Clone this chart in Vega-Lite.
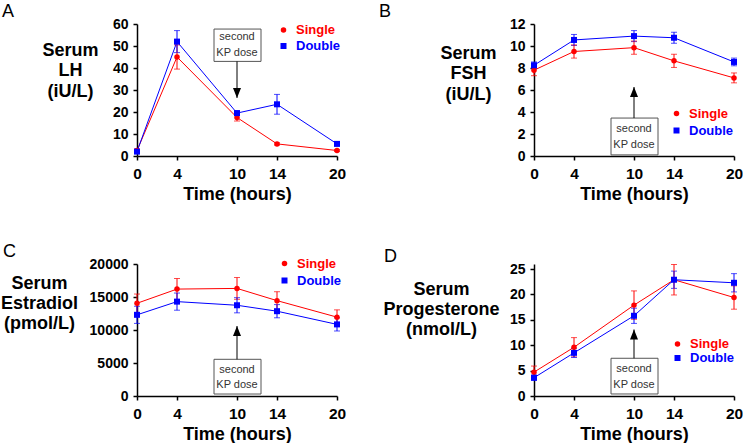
{
  "$schema": "https://vega.github.io/schema/vega-lite/v6.json",
  "padding": {"left": 0, "top": 3, "right": 0, "bottom": 0},
  "background": "white",
  "config": {
    "view": {"stroke": null},
    "font": "Liberation Sans",
    "axis": {
      "grid": false,
      "domainColor": "black", "domainWidth": 1.5,
      "tickColor": "black", "tickWidth": 1.5, "tickSize": 4,
      "labelFont": "Liberation Sans", "labelFontWeight": "bold", "labelFontSize": 14, "labelColor": "black",
      "labelOverlap": false,
      "titleFont": "Liberation Sans", "titleFontWeight": "bold", "titleFontSize": 18, "titleColor": "black"
    },
    "axisY": {"labelPadding": 5, "labelOverlap": false, "labelFlush": false, "titleAngle": 0, "titleAlign": "center", "titleBaseline": "middle", "titleLineHeight": 20.5},
    "axisX": {"labelPadding": 6, "labelFontSize": 15.5, "labelFlush": false, "labelOverlap": false, "titleBaseline": "alphabetic", "titleY": 43},
    "legend": {"labelFont": "Liberation Sans", "labelFontSize": 13, "labelFontWeight": "bold", "symbolSize": 225, "rowPadding": 2, "labelOffset": 6, "padding": 0, "orient": "none"},
    "title": {"font": "Liberation Sans", "fontSize": 18, "fontWeight": "normal", "color": "black", "anchor": "start", "frame": "group"}
  },
  "datasets": {
    "lh": [
      {"t": 0, "series": "Single", "mean": 2.5, "err": 0.7},
      {"t": 4, "series": "Single", "mean": 45, "err": 5.5},
      {"t": 10, "series": "Single", "mean": 17.5, "err": 1.6},
      {"t": 14, "series": "Single", "mean": 5.5, "err": 0.5},
      {"t": 20, "series": "Single", "mean": 2.5, "err": 0.4},
      {"t": 0, "series": "Double", "mean": 2, "err": 0.8},
      {"t": 4, "series": "Double", "mean": 52, "err": 5},
      {"t": 10, "series": "Double", "mean": 19.5, "err": 1},
      {"t": 14, "series": "Double", "mean": 23.5, "err": 4.5},
      {"t": 20, "series": "Double", "mean": 5.5, "err": 0.6}
    ],
    "fsh": [
      {"t": 0, "series": "Single", "mean": 7.8, "err": 0.5},
      {"t": 4, "series": "Single", "mean": 9.5, "err": 0.6},
      {"t": 10, "series": "Single", "mean": 9.85, "err": 0.6},
      {"t": 14, "series": "Single", "mean": 8.65, "err": 0.6},
      {"t": 20, "series": "Single", "mean": 7.1, "err": 0.45},
      {"t": 0, "series": "Double", "mean": 8.25, "err": 0.3},
      {"t": 4, "series": "Double", "mean": 10.55, "err": 0.5},
      {"t": 10, "series": "Double", "mean": 10.9, "err": 0.5},
      {"t": 14, "series": "Double", "mean": 10.75, "err": 0.5},
      {"t": 20, "series": "Double", "mean": 8.55, "err": 0.35}
    ],
    "e2": [
      {"t": 0, "series": "Single", "mean": 14050, "err": 1400},
      {"t": 4, "series": "Single", "mean": 16200, "err": 1600},
      {"t": 10, "series": "Single", "mean": 16300, "err": 1650},
      {"t": 14, "series": "Single", "mean": 14450, "err": 1350},
      {"t": 20, "series": "Single", "mean": 11950, "err": 1100},
      {"t": 0, "series": "Double", "mean": 12300, "err": 1300},
      {"t": 4, "series": "Double", "mean": 14300, "err": 1300},
      {"t": 10, "series": "Double", "mean": 13750, "err": 1150},
      {"t": 14, "series": "Double", "mean": 12850, "err": 1000},
      {"t": 20, "series": "Double", "mean": 10850, "err": 1000}
    ],
    "p4": [
      {"t": 0, "series": "Single", "mean": 4.7, "err": 1.2},
      {"t": 4, "series": "Single", "mean": 9.6, "err": 1.9},
      {"t": 10, "series": "Single", "mean": 17.9, "err": 2.8},
      {"t": 14, "series": "Single", "mean": 22.9, "err": 3},
      {"t": 20, "series": "Single", "mean": 19.4, "err": 2.3},
      {"t": 0, "series": "Double", "mean": 3.6, "err": 0.5},
      {"t": 4, "series": "Double", "mean": 8.5, "err": 0.9},
      {"t": 10, "series": "Double", "mean": 15.8, "err": 1.5},
      {"t": 14, "series": "Double", "mean": 22.9, "err": 1.7},
      {"t": 20, "series": "Double", "mean": 22.3, "err": 1.8}
    ],
    "annA": [{"x1": 7.7, "x2": 12.4, "xc": 10, "yb1": 43, "yb2": 57.7, "yt": 54, "ya": 43, "tip": 26.4, "label": "second\nKP dose"}],
    "annB": [{"x1": 7.7, "x2": 12.4, "xc": 10, "yb1": 0.1, "yb2": 3.45, "yt": 2.43, "ya": 3.45, "tip": 6.27, "label": "second\nKP dose"}],
    "annC": [{"x1": 7.7, "x2": 12.4, "xc": 10, "yb1": 300, "yb2": 5560, "yt": 3940, "ya": 5560, "tip": 10600, "label": "second\nKP dose"}],
    "annD": [{"x1": 7.7, "x2": 12.4, "xc": 10, "yb1": 0.4, "yb2": 7.43, "yt": 5.26, "ya": 7.43, "tip": 13.1, "label": "second\nKP dose"}]
  },
  "columns": 2,
  "spacing": {"row": 108, "column": 197},
  "bounds": "flush",
  "resolve": {"scale": {"color": "independent", "shape": "independent", "size": "independent"}, "legend": {"color": "independent"}},
  "concat": [
    {
      "width": 200, "height": 132,
      "title": {"text": "A", "dx": -135, "dy": 8, "offset": 4},
      "layer": [
        {"data": {"name": "annA"}, "mark": {"type": "rect", "fill": "white", "stroke": "#555555", "strokeWidth": 1},
         "encoding": {"x": {"field": "x1", "type": "quantitative", "scale": {"domain": [0, 20], "nice": false}}, "x2": {"field": "x2"},
                      "y": {"field": "yb1", "type": "quantitative", "scale": {"domain": [0, 60], "nice": false}, "axis": {"values": [0, 10, 20, 30, 40, 50, 60], "tickCount": 7, "labelOverlap": false}}, "y2": {"field": "yb2"}}},
        {"data": {"name": "annA"}, "mark": {"type": "text", "font": "Liberation Sans", "fontSize": 11, "color": "#333333", "lineBreak": "\n", "lineHeight": 15.5, "align": "center", "baseline": "middle"},
         "encoding": {"x": {"field": "xc", "type": "quantitative"}, "y": {"field": "yt", "type": "quantitative"}, "text": {"field": "label"}}},
        {"data": {"name": "annA"}, "mark": {"type": "rule", "color": "black", "strokeWidth": 1},
         "encoding": {"x": {"field": "xc", "type": "quantitative"}, "y": {"field": "ya", "type": "quantitative"}, "y2": {"field": "tip"}}},
        {"data": {"name": "annA"}, "mark": {"type": "point", "shape": "M0,0L-1,-2.5L1,-2.5Z", "filled": true, "color": "black", "size": 64, "opacity": 1},
         "encoding": {"x": {"field": "xc", "type": "quantitative"}, "y": {"field": "tip", "type": "quantitative"}}},
        {"data": {"name": "lh"},
         "encoding": {
           "x": {"field": "t", "type": "quantitative", "scale": {"domain": [0, 20], "nice": false}, "axis": {"values": [0, 4, 10, 14, 20], "title": "Time (hours)"}},
           "y": {"field": "mean", "type": "quantitative", "scale": {"domain": [0, 60], "nice": false}, "axis": {"title": ["Serum", "LH", "(iU/L)"], "titleX": -67, "titleY": 26}},
           "color": {"field": "series", "type": "nominal", "scale": {"domain": ["Single", "Double"], "range": ["#ff0000", "#0000ff"]},
                     "legend": {"title": null, "legendX": 140, "legendY": -0.5,
                                "encode": {"symbols": {"update": {"shape": {"signal": "datum.value === 'Single' ? 'M-1,-0.07L1,-0.07L1,0.07L-1,0.07ZM-0.36,0A0.36,0.36,0,1,1,0.36,0A0.36,0.36,0,1,1,-0.36,0Z' : 'M-1,-0.07L1,-0.07L1,0.07L-1,0.07ZM-0.38,-0.38L0.38,-0.38L0.38,0.38L-0.38,0.38Z'"}, "fill": {"signal": "datum.value === 'Single' ? '#ff0000' : '#0000ff'"}, "strokeWidth": {"value": 0}, "opacity": {"value": 1}}},
                                           "labels": {"update": {"fill": {"signal": "datum.value === 'Single' ? '#ff0000' : '#0000ff'"}}}}}}
         },
         "layer": [
           {"mark": {"type": "line", "strokeWidth": 1}},
           {"mark": {"type": "errorbar", "ticks": true, "size": 6, "thickness": 1}, "encoding": {"yError": {"field": "err"}}},
           {"mark": {"type": "point", "filled": true, "opacity": 1},
            "encoding": {"shape": {"field": "series", "type": "nominal", "scale": {"domain": ["Single", "Double"], "range": ["circle", "square"]}, "legend": null},
                         "size": {"field": "series", "type": "nominal", "scale": {"domain": ["Single", "Double"], "range": [30, 36]}, "legend": null}}}
         ]}
      ]
    },
    {
      "width": 200, "height": 132,
      "title": {"text": "B", "dx": -155, "dy": 8, "offset": 4},
      "layer": [
        {"data": {"name": "annB"}, "mark": {"type": "rect", "fill": "white", "stroke": "#555555", "strokeWidth": 1},
         "encoding": {"x": {"field": "x1", "type": "quantitative", "scale": {"domain": [0, 20], "nice": false}}, "x2": {"field": "x2"},
                      "y": {"field": "yb1", "type": "quantitative", "scale": {"domain": [0, 12], "nice": false}, "axis": {"values": [0, 2, 4, 6, 8, 10, 12], "tickCount": 7, "labelOverlap": false}}, "y2": {"field": "yb2"}}},
        {"data": {"name": "annB"}, "mark": {"type": "text", "font": "Liberation Sans", "fontSize": 11, "color": "#333333", "lineBreak": "\n", "lineHeight": 15.5, "align": "center", "baseline": "middle"},
         "encoding": {"x": {"field": "xc", "type": "quantitative"}, "y": {"field": "yt", "type": "quantitative"}, "text": {"field": "label"}}},
        {"data": {"name": "annB"}, "mark": {"type": "rule", "color": "black", "strokeWidth": 1},
         "encoding": {"x": {"field": "xc", "type": "quantitative"}, "y": {"field": "ya", "type": "quantitative"}, "y2": {"field": "tip"}}},
        {"data": {"name": "annB"}, "mark": {"type": "point", "shape": "M0,0L-1,2.5L1,2.5Z", "filled": true, "color": "black", "size": 64, "opacity": 1},
         "encoding": {"x": {"field": "xc", "type": "quantitative"}, "y": {"field": "tip", "type": "quantitative"}}},
        {"data": {"name": "fsh"},
         "encoding": {
           "x": {"field": "t", "type": "quantitative", "scale": {"domain": [0, 20], "nice": false}, "axis": {"values": [0, 4, 10, 14, 20], "title": "Time (hours)"}},
           "y": {"field": "mean", "type": "quantitative", "scale": {"domain": [0, 12], "nice": false}, "axis": {"title": ["Serum", "FSH", "(iU/L)"], "titleX": -66, "titleY": 29}},
           "color": {"field": "series", "type": "nominal", "scale": {"domain": ["Single", "Double"], "range": ["#ff0000", "#0000ff"]},
                     "legend": {"title": null, "legendX": 136, "legendY": 83, "rowPadding": 3,
                                "encode": {"symbols": {"update": {"shape": {"signal": "datum.value === 'Single' ? 'M-1,-0.07L1,-0.07L1,0.07L-1,0.07ZM-0.36,0A0.36,0.36,0,1,1,0.36,0A0.36,0.36,0,1,1,-0.36,0Z' : 'M-1,-0.07L1,-0.07L1,0.07L-1,0.07ZM-0.38,-0.38L0.38,-0.38L0.38,0.38L-0.38,0.38Z'"}, "fill": {"signal": "datum.value === 'Single' ? '#ff0000' : '#0000ff'"}, "strokeWidth": {"value": 0}, "opacity": {"value": 1}}},
                                           "labels": {"update": {"fill": {"signal": "datum.value === 'Single' ? '#ff0000' : '#0000ff'"}}}}}}
         },
         "layer": [
           {"mark": {"type": "line", "strokeWidth": 1}},
           {"mark": {"type": "errorbar", "ticks": true, "size": 6, "thickness": 1}, "encoding": {"yError": {"field": "err"}}},
           {"mark": {"type": "point", "filled": true, "opacity": 1},
            "encoding": {"shape": {"field": "series", "type": "nominal", "scale": {"domain": ["Single", "Double"], "range": ["circle", "square"]}, "legend": null},
                         "size": {"field": "series", "type": "nominal", "scale": {"domain": ["Single", "Double"], "range": [30, 36]}, "legend": null}}}
         ]}
      ]
    },
    {
      "width": 200, "height": 132,
      "title": {"text": "C", "dx": -134, "dy": 8, "offset": 4},
      "layer": [
        {"data": {"name": "annC"}, "mark": {"type": "rect", "fill": "white", "stroke": "#555555", "strokeWidth": 1},
         "encoding": {"x": {"field": "x1", "type": "quantitative", "scale": {"domain": [0, 20], "nice": false}}, "x2": {"field": "x2"},
                      "y": {"field": "yb1", "type": "quantitative", "scale": {"domain": [0, 20000], "nice": false}, "axis": {"values": [0, 5000, 10000, 15000, 20000], "tickCount": 5, "labelOverlap": false, "format": "d"}}, "y2": {"field": "yb2"}}},
        {"data": {"name": "annC"}, "mark": {"type": "text", "font": "Liberation Sans", "fontSize": 11, "color": "#333333", "lineBreak": "\n", "lineHeight": 15.5, "align": "center", "baseline": "middle"},
         "encoding": {"x": {"field": "xc", "type": "quantitative"}, "y": {"field": "yt", "type": "quantitative"}, "text": {"field": "label"}}},
        {"data": {"name": "annC"}, "mark": {"type": "rule", "color": "black", "strokeWidth": 1},
         "encoding": {"x": {"field": "xc", "type": "quantitative"}, "y": {"field": "ya", "type": "quantitative"}, "y2": {"field": "tip"}}},
        {"data": {"name": "annC"}, "mark": {"type": "point", "shape": "M0,0L-1,2.5L1,2.5Z", "filled": true, "color": "black", "size": 64, "opacity": 1},
         "encoding": {"x": {"field": "xc", "type": "quantitative"}, "y": {"field": "tip", "type": "quantitative"}}},
        {"data": {"name": "e2"},
         "encoding": {
           "x": {"field": "t", "type": "quantitative", "scale": {"domain": [0, 20], "nice": false}, "axis": {"values": [0, 4, 10, 14, 20], "title": "Time (hours)"}},
           "y": {"field": "mean", "type": "quantitative", "scale": {"domain": [0, 20000], "nice": false}, "axis": {"format": "d", "title": ["Serum", "Estradiol", "(pmol/L)"], "titleX": -98, "titleY": 19.5, "titleLineHeight": 20}},
           "color": {"field": "series", "type": "nominal", "scale": {"domain": ["Single", "Double"], "range": ["#ff0000", "#0000ff"]},
                     "legend": {"title": null, "legendX": 141, "legendY": -7, "rowPadding": 3,
                                "encode": {"symbols": {"update": {"shape": {"signal": "datum.value === 'Single' ? 'M-1,-0.07L1,-0.07L1,0.07L-1,0.07ZM-0.36,0A0.36,0.36,0,1,1,0.36,0A0.36,0.36,0,1,1,-0.36,0Z' : 'M-1,-0.07L1,-0.07L1,0.07L-1,0.07ZM-0.38,-0.38L0.38,-0.38L0.38,0.38L-0.38,0.38Z'"}, "fill": {"signal": "datum.value === 'Single' ? '#ff0000' : '#0000ff'"}, "strokeWidth": {"value": 0}, "opacity": {"value": 1}}},
                                           "labels": {"update": {"fill": {"signal": "datum.value === 'Single' ? '#ff0000' : '#0000ff'"}}}}}}
         },
         "layer": [
           {"mark": {"type": "line", "strokeWidth": 1}},
           {"mark": {"type": "errorbar", "ticks": true, "size": 6, "thickness": 1}, "encoding": {"yError": {"field": "err"}}},
           {"mark": {"type": "point", "filled": true, "opacity": 1},
            "encoding": {"shape": {"field": "series", "type": "nominal", "scale": {"domain": ["Single", "Double"], "range": ["circle", "square"]}, "legend": null},
                         "size": {"field": "series", "type": "nominal", "scale": {"domain": ["Single", "Double"], "range": [30, 36]}, "legend": null}}}
         ]}
      ]
    },
    {
      "width": 200, "height": 132,
      "title": {"text": "D", "dx": -150, "dy": 8, "offset": 4},
      "layer": [
        {"data": {"name": "annD"}, "mark": {"type": "rect", "fill": "white", "stroke": "#555555", "strokeWidth": 1},
         "encoding": {"x": {"field": "x1", "type": "quantitative", "scale": {"domain": [0, 20], "nice": false}}, "x2": {"field": "x2"},
                      "y": {"field": "yb1", "type": "quantitative", "scale": {"domain": [0, 26], "nice": false}, "axis": {"values": [0, 5, 10, 15, 20, 25], "tickCount": 6, "labelOverlap": false}}, "y2": {"field": "yb2"}}},
        {"data": {"name": "annD"}, "mark": {"type": "text", "font": "Liberation Sans", "fontSize": 11, "color": "#333333", "lineBreak": "\n", "lineHeight": 15.5, "align": "center", "baseline": "middle"},
         "encoding": {"x": {"field": "xc", "type": "quantitative"}, "y": {"field": "yt", "type": "quantitative"}, "text": {"field": "label"}}},
        {"data": {"name": "annD"}, "mark": {"type": "rule", "color": "black", "strokeWidth": 1},
         "encoding": {"x": {"field": "xc", "type": "quantitative"}, "y": {"field": "ya", "type": "quantitative"}, "y2": {"field": "tip"}}},
        {"data": {"name": "annD"}, "mark": {"type": "point", "shape": "M0,0L-1,2.5L1,2.5Z", "filled": true, "color": "black", "size": 64, "opacity": 1},
         "encoding": {"x": {"field": "xc", "type": "quantitative"}, "y": {"field": "tip", "type": "quantitative"}}},
        {"data": {"name": "p4"},
         "encoding": {
           "x": {"field": "t", "type": "quantitative", "scale": {"domain": [0, 20], "nice": false}, "axis": {"values": [0, 4, 10, 14, 20], "title": "Time (hours)"}},
           "y": {"field": "mean", "type": "quantitative", "scale": {"domain": [0, 26], "nice": false}, "axis": {"title": ["Serum", "Progesterone", "(nmol/L)"], "titleX": -93, "titleY": 25, "titleLineHeight": 20}},
           "color": {"field": "series", "type": "nominal", "scale": {"domain": ["Single", "Double"], "range": ["#ff0000", "#0000ff"]},
                     "legend": {"title": null, "legendX": 137, "legendY": 73.5, "rowPadding": 0,
                                "encode": {"symbols": {"update": {"shape": {"signal": "datum.value === 'Single' ? 'M-1,-0.07L1,-0.07L1,0.07L-1,0.07ZM-0.36,0A0.36,0.36,0,1,1,0.36,0A0.36,0.36,0,1,1,-0.36,0Z' : 'M-1,-0.07L1,-0.07L1,0.07L-1,0.07ZM-0.38,-0.38L0.38,-0.38L0.38,0.38L-0.38,0.38Z'"}, "fill": {"signal": "datum.value === 'Single' ? '#ff0000' : '#0000ff'"}, "strokeWidth": {"value": 0}, "opacity": {"value": 1}}},
                                           "labels": {"update": {"fill": {"signal": "datum.value === 'Single' ? '#ff0000' : '#0000ff'"}}}}}}
         },
         "layer": [
           {"mark": {"type": "line", "strokeWidth": 1}},
           {"mark": {"type": "errorbar", "ticks": true, "size": 6, "thickness": 1}, "encoding": {"yError": {"field": "err"}}},
           {"mark": {"type": "point", "filled": true, "opacity": 1},
            "encoding": {"shape": {"field": "series", "type": "nominal", "scale": {"domain": ["Single", "Double"], "range": ["circle", "square"]}, "legend": null},
                         "size": {"field": "series", "type": "nominal", "scale": {"domain": ["Single", "Double"], "range": [30, 36]}, "legend": null}}}
         ]}
      ]
    }
  ]
}
